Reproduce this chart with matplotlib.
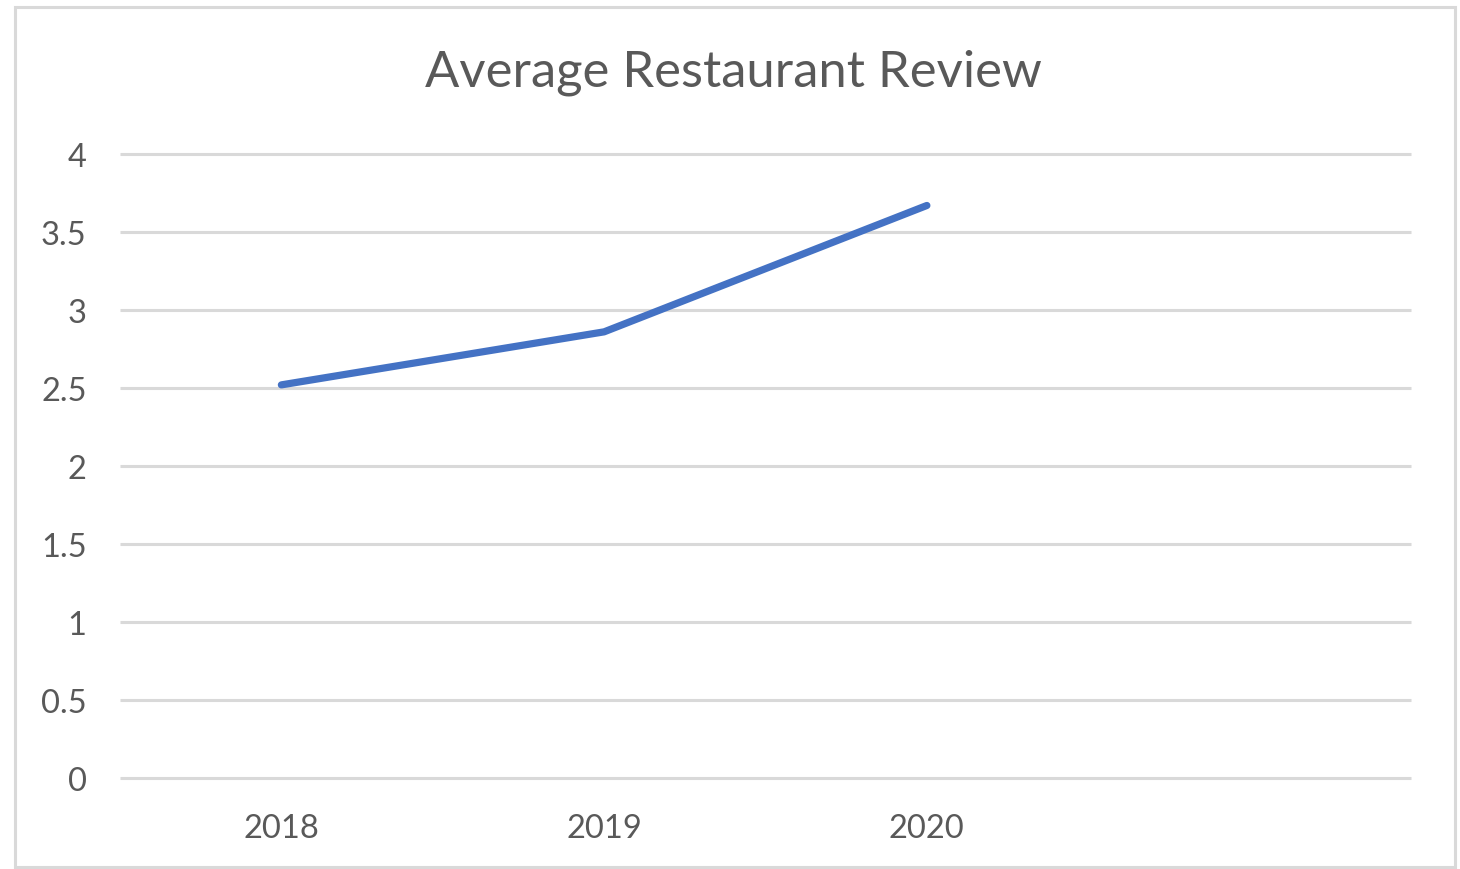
import matplotlib.pyplot as plt
from matplotlib.patches import Rectangle

# data
years = ["2018", "2019", "2020", ""]
reviews = [2.52, 2.86, 3.67]
y_ticks = [0, 0.5, 1, 1.5, 2, 2.5, 3, 3.5, 4]
y_labels = ["0", "0.5", "1", "1.5", "2", "2.5", "3", "3.5", "4"]

plt.rcParams['font.family'] = ['Lato', 'DejaVu Sans']
text_col = '#595959'
grid_col = '#d9d9d9'

fig = plt.figure(figsize=(14.6, 8.7), dpi=100)
ax = fig.add_axes([120 / 1460, 1 - 779 / 870, (1411 - 120) / 1460, (779 - 155) / 870])

ax.plot(range(len(reviews)), reviews, color='#4472c4', lw=5.2,
        solid_capstyle='round', solid_joinstyle='round', zorder=3)

ax.set_xlim(-0.5, len(years) - 0.5)
ax.set_ylim(0, 4)
ax.set_xticks(range(len(years)))
ax.set_xticklabels(years)
ax.set_yticks(y_ticks)
ax.set_yticklabels(y_labels)
ax.tick_params(length=0, labelsize=23.5, labelcolor=text_col)
ax.tick_params(axis='y', pad=24)
ax.tick_params(axis='x', pad=25)
ax.grid(axis='y', color=grid_col, lw=2.2)
for gl in ax.get_ygridlines():
    gl.set_clip_on(False)
    gl.set_solid_capstyle('butt')
ax.set_axisbelow(True)
for s in ax.spines.values():
    s.set_visible(False)

fig.text(733 / 1460, 1 - 73 / 870, "Average Restaurant Review", ha='center', va='center',
         fontsize=36.5, color=text_col)

# outer chart border
fig.patches.append(Rectangle((14.5 / 1460, 1 - 868 / 870), (1454.5 - 14.5) / 1460, (868 - 7.5) / 870,
                             transform=fig.transFigure, fill=False, ec=grid_col, lw=2.2))

fig.savefig("out.png", dpi=100)
